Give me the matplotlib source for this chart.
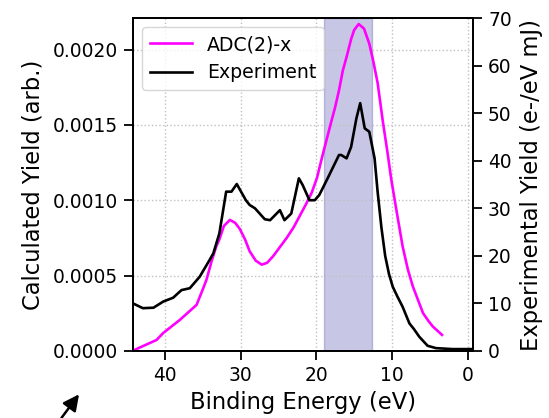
import matplotlib
matplotlib.use("Agg")
import matplotlib.pyplot as plt
from matplotlib.patches import FancyArrowPatch

# ADC(2)-x calculated photoelectron yield (arb. units)
adc_energy = [44.3, 43.0, 41.1, 40.2, 38.0, 36.1, 35.8, 34.9, 34.5, 33.8, 33.2, 32.8,
              32.2, 31.4, 30.7, 30.1, 29.4, 28.8, 28.0, 27.2, 26.5, 25.7, 24.8, 23.9,
              23.0, 22.2, 21.4, 20.6, 19.9, 19.3, 18.7, 18.1, 17.5, 17.0, 16.5, 15.9,
              15.4, 15.0, 14.4, 13.7, 13.0, 12.5, 11.9, 11.2, 10.6, 10.1, 9.4, 8.6,
              7.9, 7.25, 6.5, 5.9, 5.2, 4.6, 3.4]
adc_yield = [0.0, 0.03e-3, 0.073e-3, 0.12e-3, 0.207e-3, 0.293e-3, 0.307e-3, 0.42e-3,
             0.473e-3, 0.60e-3, 0.695e-3, 0.74e-3, 0.83e-3, 0.870e-3, 0.85e-3,
             0.81e-3, 0.74e-3, 0.662e-3, 0.60e-3, 0.573e-3, 0.585e-3, 0.629e-3,
             0.69e-3, 0.751e-3, 0.82e-3, 0.895e-3, 0.97e-3, 1.051e-3, 1.15e-3,
             1.273e-3, 1.39e-3, 1.507e-3, 1.62e-3, 1.73e-3, 1.86e-3, 1.97e-3, 2.07e-3,
             2.13e-3, 2.17e-3, 2.14e-3, 2.04e-3, 1.93e-3, 1.78e-3, 1.52e-3, 1.32e-3,
             1.14e-3, 0.93e-3, 0.695e-3, 0.54e-3, 0.429e-3, 0.33e-3, 0.251e-3,
             0.20e-3, 0.162e-3, 0.107e-3]

# Measured photoelectron yield (e-/eV mJ)
exp_energy = [44.2, 42.9, 41.5, 40.2, 38.9, 37.8, 36.7, 35.4, 34.1, 33.6, 32.8, 31.9,
              31.2, 30.5, 29.3, 28.8, 28.1, 26.8, 26.1, 24.8, 24.2, 23.3, 22.3, 21.8,
              20.9, 20.2, 19.6, 18.5, 17.0, 16.7, 16.0, 15.4, 14.7, 14.2, 13.6, 13.0,
              12.3, 11.9, 11.4, 10.9, 10.4, 9.9, 9.3, 8.6, 7.7, 7.1, 6.4, 5.3, 4.2,
              2.0, -0.7]
exp_yield = [10.0, 9.0, 9.1, 10.4, 11.2, 12.8, 13.2, 15.6, 19.1, 20.5, 24.7, 33.5,
             33.5, 35.1, 31.7, 30.7, 30.0, 27.7, 27.5, 29.6, 27.5, 28.9, 36.3, 34.9,
             31.7, 31.7, 32.8, 36.3, 41.2, 41.2, 40.5, 42.9, 48.9, 52.1, 46.8, 46.1,
             40.5, 33.5, 26.0, 20.0, 16.2, 13.5, 11.5, 9.3, 5.8, 4.6, 3.0, 1.1, 0.6,
             0.4, 0.4]

# Highlighted binding-energy window (eV)
band_range = [19.0, 12.7]

plt.rcParams["font.family"] = "DejaVu Sans"
plt.rcParams["font.size"] = 13.4
for axis in ("xtick", "ytick"):
    plt.rcParams[f"{axis}.major.size"] = 6.3
    plt.rcParams[f"{axis}.major.width"] = 1.3
    plt.rcParams[f"{axis}.major.pad"] = 4.5
    plt.rcParams[f"{axis}.labelsize"] = 13.4

fig = plt.figure(figsize=(5.49, 4.18), dpi=100)
fig.subplots_adjust(left=0.2423, right=0.8616, top=0.9569, bottom=0.1603)
ax = fig.add_subplot(111)
ax2 = ax.twinx()

ax.axvspan(band_range[0], band_range[1], color="darkblue", alpha=0.22, zorder=0)
l1, = ax.plot(adc_energy, adc_yield, color="magenta", lw=1.9, label="ADC(2)-x")
l2, = ax2.plot(exp_energy, exp_yield, color="black", lw=1.9, label="Experiment")

ax.set_xlim(44.2, -0.7)
ax.set_ylim(0, 0.00221)
ax2.set_ylim(0, 70)
ax.set_xticks([40, 30, 20, 10, 0])
ax.set_yticks([0, 0.0005, 0.001, 0.0015, 0.002])
ax.set_yticklabels(["0.0000", "0.0005", "0.0010", "0.0015", "0.0020"])
ax2.set_yticks(range(0, 71, 10))

ax.grid(True, linestyle=":", color="#c0c0c0", linewidth=1)

ax.set_xlabel("Binding Energy (eV)", fontsize=16.3, labelpad=4)
ax.set_ylabel("Calculated Yield (arb.)", fontsize=16.3, labelpad=6)
ax2.set_ylabel("Experimental Yield (e-/eV mJ)", fontsize=16.3, labelpad=6)

for a in (ax, ax2):
    for s in a.spines.values():
        s.set_linewidth(1.3)

ax.legend(handles=[l1, l2], loc="upper left", fontsize=13.6, handlelength=2.2)

fig.add_artist(FancyArrowPatch((0.1090, -0.005), (0.1470, 0.0620),
                               transform=fig.transFigure, arrowstyle="-|>",
                               mutation_scale=24, lw=1.8, color="black"))

fig.savefig("out.png", dpi=100)
